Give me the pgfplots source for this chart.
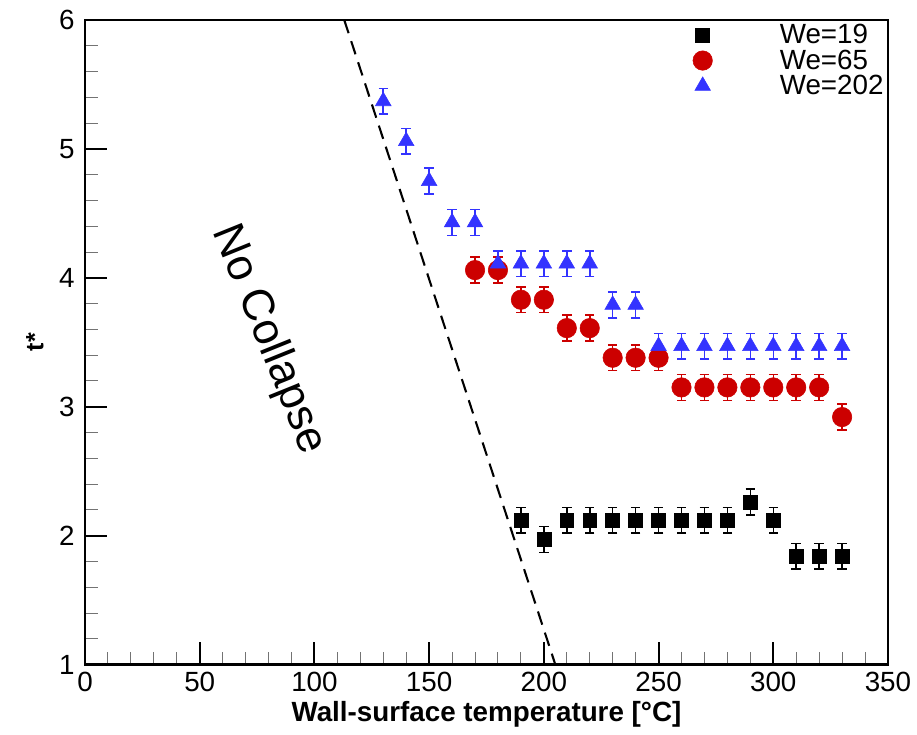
\documentclass[border=0pt]{standalone}
\usepackage{fontspec}
\setmainfont{Liberation Sans}
\usepackage{pgfplots}
\pgfplotsset{compat=1.18}
\definecolor{myred}{RGB}{204,0,0}
\definecolor{myblue}{RGB}{51,51,255}
\pgfplotsset{mylegimg/.style={legend image code/.code={\path[draw=none] (-0.45cm,0) -- (1.75cm,0); \draw[##1] plot coordinates {(-0.13cm,0cm)};}}}
\pgfplotstableread{
x y e
190 2.12 0.1
200 1.97 0.1
210 2.12 0.1
220 2.12 0.1
230 2.12 0.1
240 2.12 0.1
250 2.12 0.1
260 2.12 0.1
270 2.12 0.1
280 2.12 0.1
290 2.26 0.1
300 2.12 0.1
310 1.84 0.1
320 1.84 0.1
330 1.84 0.1
}\weA
\pgfplotstableread{
x y e
170 4.06 0.1
180 4.06 0.1
190 3.83 0.1
200 3.83 0.1
210 3.61 0.1
220 3.61 0.1
230 3.38 0.1
240 3.38 0.1
250 3.38 0.1
260 3.15 0.1
270 3.15 0.1
280 3.15 0.1
290 3.15 0.1
300 3.15 0.1
310 3.15 0.1
320 3.15 0.1
330 2.92 0.1
}\weB
\pgfplotstableread{
x y e
130 5.37 0.1
140 5.06 0.1
150 4.75 0.1
160 4.43 0.1
170 4.43 0.1
180 4.11 0.1
190 4.11 0.1
200 4.11 0.1
210 4.11 0.1
220 4.11 0.1
230 3.79 0.1
240 3.79 0.1
250 3.47 0.1
260 3.47 0.1
270 3.47 0.1
280 3.47 0.1
290 3.47 0.1
300 3.47 0.1
310 3.47 0.1
320 3.47 0.1
330 3.47 0.1
}\weC
\begin{document}
\begin{tikzpicture}
\begin{axis}[
 scale only axis, width=578pt, height=464pt,
 xmin=0, xmax=350, ymin=1, ymax=6,
 xtick={0,50,...,350}, ytick={1,2,...,6},
 minor x tick num=4, minor y tick num=4,
 tick align=inside, xtick pos=bottom, ytick pos=left,
 major tick length=16pt, minor tick length=9pt,
 axis line style={line width=2pt},
 major tick style={black, line width=1.4pt},
 minor tick style={black!55, line width=0.7pt},
 tick label style={font=\fontsize{20}{22}\selectfont},
 xticklabel style={yshift=-2pt},
 yticklabel style={xshift=-4pt},
 /pgf/number format/assume math mode=true,
 xlabel={\textbf{Wall-surface temperature [°C]}},
 ylabel={\textbf{t*}},
 every axis x label/.style={at={(axis description cs:0.5,0)}, yshift=-36pt, anchor=center, font=\fontsize{20}{22}\selectfont},
 every axis y label/.style={at={(axis description cs:0,0.5)}, xshift=-36pt, rotate=90, anchor=center, font=\fontsize{18}{22}\selectfont},
 legend cell align=left,
 legend style={at={(1,1)}, anchor=north east, yshift=0pt, draw=none, fill=none,
   font=\fontsize{20}{22}\selectfont, row sep=-1.2pt, inner sep=1pt},
]
\addlegendimage{only marks, mark=square*, mark size=5pt, black, mylegimg}
\addlegendentry{We=19}
\addlegendimage{only marks, mark=*, mark size=7pt, myred, mylegimg}
\addlegendentry{We=65}
\addlegendimage{only marks, mark=triangle*, mark size=6.5pt, myblue, mylegimg}
\addlegendentry{We=202}

\addplot[black, line width=1.5pt, dash pattern=on 10pt off 6pt, forget plot] coordinates {(113,6) (205,1)};

\addplot[only marks, mark=square*, mark size=5pt, black, forget plot,
  error bars/.cd, y dir=both, y explicit,
  error bar style={line width=1.1pt},
  error mark options={rotate=90, mark size=3.4pt, line width=1.1pt}]
  table[x=x, y=y, y error=e] {\weA};
\addplot[only marks, mark=*, mark size=7pt, myred, forget plot,
  error bars/.cd, y dir=both, y explicit,
  error bar style={line width=1.1pt},
  error mark options={rotate=90, mark size=3.4pt, line width=1.1pt}]
  table[x=x, y=y, y error=e] {\weB};
\addplot[only marks, mark=triangle*, mark size=6.5pt, myblue, forget plot,
  error bars/.cd, y dir=both, y explicit,
  error bar style={line width=1.1pt},
  error mark options={rotate=90, mark size=3.4pt, line width=1.1pt}]
  table[x=x, y=y, y error=e] {\weC};

\node[rotate=-68, font=\fontsize{32}{38}\selectfont] at (axis cs:80,3.52) {No Collapse};
\end{axis}
\pgfresetboundingbox
\path (current axis.south west) ++(-61.2pt,-50.4pt) coordinate (bbA);
\path (current axis.north east) ++(20.9pt,14.4pt) coordinate (bbB);
\path[use as bounding box] (bbA) rectangle (bbB);
\end{tikzpicture}
\end{document}
